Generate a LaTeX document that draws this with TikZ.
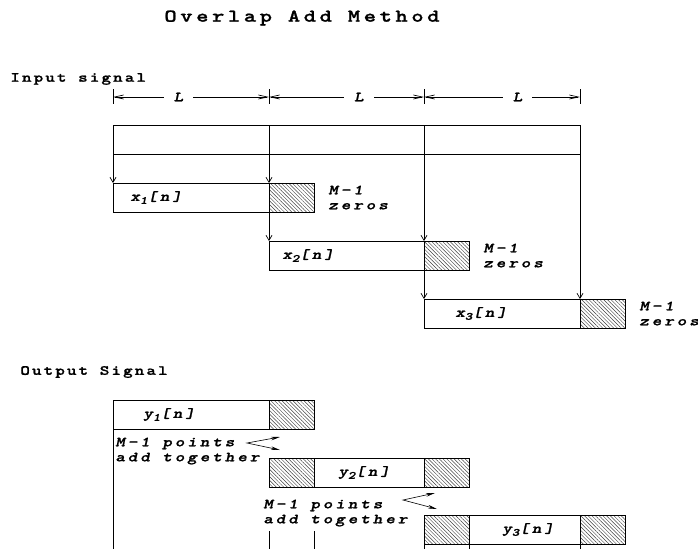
\documentclass[tikz,border=0pt]{standalone}
\usepackage{fontspec}
\usetikzlibrary{positioning,patterns.meta,arrows.meta}

\newfontfamily\oamono{lmmonolt10-bold}[Extension=.otf, LetterSpace=15,
  FakeStretch=1.3, FakeBold=1.2]
\newfontfamily\oaslant{lmmonolt10-boldoblique}[Extension=.otf, LetterSpace=21,
  FakeStretch=1.3, FakeBold=1.2]
\newfontfamily\oatitlefam{lmmonolt10-bold}[Extension=.otf, LetterSpace=20,
  FakeStretch=1.3, FakeBold=1.2]
\newcommand{\oaplain}{\oamono\fontsize{14}{17}\selectfont}
\newcommand{\oalabel}{\oaslant\fontsize{14}{15}\selectfont}
\newcommand{\oatitle}{\oatitlefam\fontsize{18}{22}\selectfont}
\newcommand{\lowsub}[1]{\raisebox{-3pt}{\fontsize{11}{11}\selectfont #1}}

\tikzset{
  sigbox/.style={draw, rectangle, inner sep=0pt, outer sep=0pt,
    minimum height=29pt, anchor=north west},
  padbox/.style={sigbox, minimum width=45pt,
    pattern={Lines[angle=-45,distance=2.6pt,line width=0.45pt]},
    pattern color=black!75},
  lbl/.style={font=\oalabel, inner sep=0pt, anchor=west},
  feed/.style={-{Straight Barb[length=5pt,width=6pt]}},
  dimline/.style={{Straight Barb[length=9pt,width=4pt]}-{Straight Barb[length=9pt,width=4pt]}},
  merge/.style={{Stealth[length=9pt,width=3.5pt]}-{Stealth[length=9pt,width=3.5pt]},
    line width=0.6pt},
}

\begin{document}
\begin{tikzpicture}[x=1pt,y=-1pt,line width=0.7pt]
  \useasboundingbox (0,0) rectangle (698,549);

  % headings
  \node[font=\oatitle] (title) at (302,18) {Overlap Add Method};
  \node[font=\oaplain, inner sep=0pt, anchor=west] (insig) at (10,79) {Input signal};
  \node[font=\oaplain, inner sep=0pt, anchor=west] (outsig) at (20,372) {Output Signal};

  % block lengths
  \foreach \t in {113,269,424,580}
    \draw (\t,89) -- (\t,104);
  \coordinate (d0) at (113,97);
  \coordinate (d1) at (269,97);
  \coordinate (d2) at (424,97);
  \coordinate (d3) at (580,97);
  \draw[dimline] (d0) -- node[pos=0.42, fill=white, font=\oalabel, inner xsep=10pt, inner ysep=1pt] {L} (d1);
  \draw[dimline] (d1) -- node[pos=0.58, fill=white, font=\oalabel, inner xsep=10pt, inner ysep=1pt] {L} (d2);
  \draw[dimline] (d2) -- node[pos=0.6, fill=white, font=\oalabel, inner xsep=10pt, inner ysep=1pt] {L} (d3);

  % input signal split into blocks
  \node[sigbox, minimum width=156pt] (c1) at (113,125) {};
  \node[sigbox, minimum width=155pt, right=0pt of c1] (c2) {};
  \node[sigbox, minimum width=156pt, right=0pt of c2] (c3) {};

  \node[sigbox, minimum width=156pt] (x1) at (113,183) {};
  \node[padbox, right=0pt of x1] (p1) {};
  \node[sigbox, minimum width=155pt] (x2) at (269,241) {};
  \node[padbox, right=0pt of x2] (p2) {};
  \node[sigbox, minimum width=156pt] (x3) at (424,299) {};
  \node[padbox, right=0pt of x3] (p3) {};

  \node[lbl, right=17pt of x1.west] (x1l) {x\lowsub{1}[n]};
  \node[lbl, right=13pt of x2.west] (x2l) {x\lowsub{2}[n]};
  \node[lbl, right=31pt of x3.west] (x3l) {x\lowsub{3}[n]};
  \node[lbl, align=left, right=14pt of p1.east] (z1) {M−1\\zeros};
  \node[lbl, align=left, right=14pt of p2.east] (z2) {M−1\\zeros};
  \node[lbl, align=left, right=14pt of p3.east] (z3) {M−1\\zeros};

  \draw[feed] (c1.south west) -- (x1.north west);
  \draw[feed] (c1.south east) -- (x1.north east);
  \draw[feed] (x1.south east) -- (x2.north west);
  \draw[feed] (c2.south east) -- (x2.north east);
  \draw[feed] (x2.south east) -- (x3.north west);
  \draw[feed] (c3.south east) -- (x3.north east);

  % output signal
  \node[sigbox, minimum width=156pt] (y1) at (113,400) {};
  \node[padbox, right=0pt of y1] (q1) {};
  \node[padbox] (q2a) at (269,458) {};
  \node[sigbox, minimum width=110pt, right=0pt of q2a] (y2) {};
  \node[padbox, right=0pt of y2] (q2b) {};
  \node[padbox] (q3a) at (424,515) {};
  \node[sigbox, minimum width=111pt, right=0pt of q3a] (y3) {};
  \node[padbox, right=0pt of y3] (q3b) {};

  \node[lbl, right=30pt of y1.west] (y1l) {y\lowsub{1}[n]};
  \node[lbl, right=24pt of y2.west] (y2l) {y\lowsub{2}[n]};
  \node[lbl, right=33pt of y3.west] (y3l) {y\lowsub{3}[n]};

  \node[lbl, align=left] (sum1) at (115,451) {M−1 points\\add together};
  \node[lbl, align=left] (sum2) at (263,513) {M−1 points\\add together};

  \coordinate (m1) at (247,443);
  \coordinate (m1a) at (280,437);
  \coordinate (m1b) at (280,450);
  \draw[merge] (m1a) -- (m1) -- (m1b);
  \coordinate (m2) at (403,500);
  \coordinate (m2a) at (435,493);
  \coordinate (m2b) at (437,509);
  \draw[merge] (m2a) -- (m2) -- (m2b);

  % lines running off the bottom
  \coordinate (bot) at (0,549);
  \coordinate (t1) at (269,531);
  \coordinate (t2) at (314,531);
  \draw (y1.south west) -- (y1.south west |- bot);
  \draw (t1) -- (t1 |- bot);
  \draw (t2) -- (t2 |- bot);
  \draw (q3a.south west) -- (q3a.south west |- bot);
  \draw (y3.south west) -- (y3.south west |- bot);
  \draw (y3.south east) -- (y3.south east |- bot);
\end{tikzpicture}
\end{document}
